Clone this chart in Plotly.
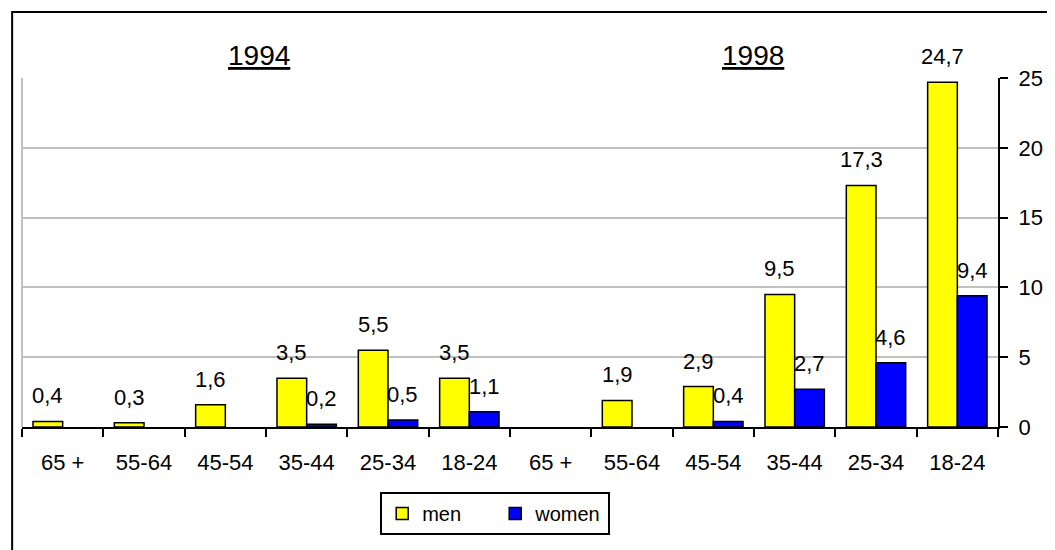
import plotly.graph_objects as go

categories = ["65 +", "55-64", "45-54", "35-44", "25-34", "18-24",
              "65 +", "55-64", "45-54", "35-44", "25-34", "18-24"]
men = [0.4, 0.3, 1.6, 3.5, 5.5, 3.5, None, 1.9, 2.9, 9.5, 17.3, 24.7]
women = [None, None, None, 0.2, 0.5, 1.1, None, None, 0.4, 2.7, 4.6, 9.4]
years = ["1994", "1998"]
year_pos = [2.41, 8.49]
y_ticks = [0, 5, 10, 15, 20, 25]

FONT = "Liberation Sans, Arial, sans-serif"
xs = list(range(len(categories)))

fig = go.Figure()
fig.add_trace(go.Bar(x=xs, y=men, name="men",
                     marker=dict(color="#ffff00", line=dict(color="black", width=1.5))))
fig.add_trace(go.Bar(x=xs, y=women, name="women",
                     marker=dict(color="#0000ff", line=dict(color="black", width=1.5))))

off = 0.182
def fmt(v):
    return f"{v:.1f}".replace(".", ",")

for i in xs:
    for vals, dx in ((men, -off), (women, off)):
        v = vals[i]
        if v is None:
            continue
        fig.add_annotation(x=i + dx, y=v, text=fmt(v), showarrow=False,
                           yanchor="bottom", yshift=11,
                           font=dict(family=FONT, size=22, color="black"))

for yr, xp in zip(years, year_pos):
    fig.add_annotation(x=xp, y=1.0, xref="x", yref="paper", text=f"<u>{yr}</u>",
                       showarrow=False, yanchor="bottom", yshift=5,
                       font=dict(family=FONT, size=28, color="black"))

# plot area left border (gray)
fig.add_shape(type="line", xref="paper", yref="paper", x0=0, x1=0, y0=0, y1=1,
              line=dict(color="#c0c0c0", width=2))
# outer chart border
fig.add_shape(type="rect", xref="paper", yref="paper",
              x0=-0.0101, x1=1.06, y0=-0.37, y1=1.189,
              line=dict(color="black", width=2), layer="below")

fig.update_layout(
    width=1047, height=542,
    margin=dict(l=14, r=43, t=70, b=123),
    paper_bgcolor="white", plot_bgcolor="white",
    barmode="group", bargap=0.27, bargroupgap=0,
    font=dict(family=FONT, size=22, color="black"),
    showlegend=True,
    legend=dict(orientation="h", x=0.367, y=-0.186, xanchor="left", yanchor="top",
                bordercolor="black", borderwidth=2, bgcolor="white",
                font=dict(family=FONT, size=20), itemwidth=30,
                entrywidthmode="pixels", entrywidth=68),
    xaxis=dict(range=[-0.5, 11.5], tickmode="array", tickvals=xs, ticktext=categories,
               ticks="", showgrid=False, zeroline=False,
               showline=True, linecolor="black", linewidth=2,
               ticklabelstandoff=15,
               minor=dict(tickmode="array", tickvals=[i - 0.5 for i in range(13)],
                          ticks="outside", ticklen=8, tickwidth=2, tickcolor="black",
                          showgrid=False)),
    yaxis=dict(range=[0, 25], side="right", tickmode="array", tickvals=y_ticks,
               ticks="outside", ticklen=8, tickwidth=2, tickcolor="black",
               showline=True, linecolor="black", linewidth=2,
               showgrid=True, gridcolor="#c0c0c0", gridwidth=2, zeroline=False,
               ticklabelstandoff=6),
)

fig.write_html("out.html")
